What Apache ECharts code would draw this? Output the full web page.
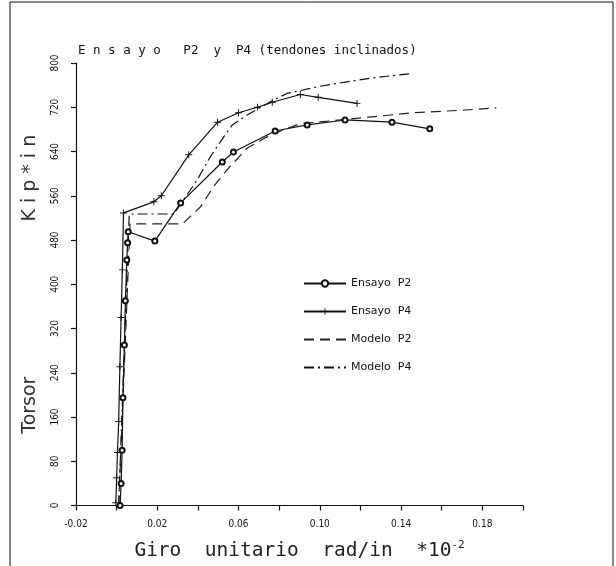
<!DOCTYPE html>
<html>
<head>
<meta charset="utf-8">
<script src="https://cdn.jsdelivr.net/npm/echarts@6/dist/echarts.min.js"></script>
<style>
  html, body { margin: 0; padding: 0; background: #fff; }
  #chart { width: 616px; height: 566px; }
</style>
</head>
<body>
<div id="chart"></div>
<script>
// datos
var ensayoP2X = [0.0017, 0.0022, 0.0027, 0.0031, 0.0038, 0.0043, 0.0050, 0.0054, 0.0057, 0.0188, 0.0315, 0.0520, 0.0575, 0.0780, 0.0938, 0.1124, 0.1355, 0.1541];
var ensayoP2Y = [0, 40, 100, 195, 290, 370, 444, 475, 495, 478, 547, 621, 639, 677, 688, 697, 693, 681];

var ensayoP4X = [-0.0004, 0.0000, 0.0004, 0.0010, 0.0016, 0.0022, 0.0028, 0.0034, 0.0183, 0.0220, 0.0355, 0.0497, 0.0600, 0.0693, 0.0766, 0.0904, 0.0992, 0.1183];
var ensayoP4Y = [5, 50, 96, 152, 251, 340, 426, 529, 549, 560, 634, 693, 710, 720, 729, 743, 738, 727];

var modeloP2X = [0.0010, 0.0066, 0.0323, 0.0413, 0.0478, 0.0544, 0.0642, 0.0757, 0.0900, 0.1239, 0.1458, 0.1720, 0.1869];
var modeloP2Y = [0, 509, 509, 540, 577, 607, 646, 670, 690, 702, 710, 715, 719];

var modeloP4X = [0.0010, 0.0062, 0.0282, 0.0397, 0.0462, 0.0528, 0.0569, 0.0642, 0.0773, 0.0838, 0.1002, 0.1133, 0.1280, 0.1452];
var modeloP4Y = [0, 527, 527, 589, 631, 667, 688, 706, 733, 745, 758, 766, 774, 781];

var xTickLabels = ["-0.02", "0.02", "0.06", "0.10", "0.14", "0.18"];
var seriesNames = ["Ensayo  P2", "Ensayo  P4", "Modelo  P2", "Modelo  P4"];

function pares(xs, ys) {
  var out = [];
  for (var i = 0; i < xs.length; i++) {
    out.push([xs[i], ys[i]]);
  }
  return out;
}

var chart = echarts.init(document.getElementById("chart"));
var monoFont = "DejaVu Sans Mono";
var plusSymbol = "path://M0,4.3 L10,4.3 L10,5.7 L0,5.7 Z M4.3,0 L5.7,0 L5.7,10 L4.3,10 Z";

var option = {
  backgroundColor: "#fff",
  animation: false,
  title: {
    text: "E n s a y o   P2  y  P4 (tendones inclinados)",
    left: 73,
    top: 39,
    textStyle: { fontFamily: monoFont, fontSize: 12.5, fontWeight: "normal", color: "#111" },
  },
  grid: { left: 76, right: 93, top: 63, bottom: 60 },
  legend: {
    orient: "vertical",
    left: 298,
    top: 273,
    itemWidth: 42,
    itemHeight: 8,
    itemGap: 17,
    data: [
      { name: seriesNames[0] },
      { name: seriesNames[1] },
      { name: seriesNames[2], itemStyle: { opacity: 0 } },
      { name: seriesNames[3], itemStyle: { opacity: 0 } },
    ],
    textStyle: { fontFamily: "DejaVu Sans", fontSize: 11, color: "#111" },
  },
  xAxis: {
    type: "value",
    min: -0.02,
    max: 0.2,
    interval: 0.02,
    splitLine: { show: false },
    axisLine: { lineStyle: { color: "#111", width: 1.2 } },
    axisTick: { length: 5, lineStyle: { color: "#111", width: 1.2 } },
    axisLabel: {
      margin: 14,
      fontFamily: "DejaVu Sans Condensed, DejaVu Sans",
      fontSize: 10,
      color: "#111",
      formatter: function (v) {
        var s = v.toFixed(2);
        return xTickLabels.indexOf(s) >= 0 ? s : "";
      },
    },
    name: "Giro  unitario  rad/in  *10{sup|-2}",
    nameLocation: "middle",
    nameGap: 34,
    nameTextStyle: {
      fontFamily: monoFont,
      fontSize: 19.5,
      color: "#222",
      rich: { sup: { fontFamily: monoFont, fontSize: 11, verticalAlign: "top", padding: [0, 0, 12, 0], color: "#222" } },
    },
  },
  yAxis: {
    type: "value",
    min: 0,
    max: 800,
    interval: 80,
    splitLine: { show: false },
    axisLine: { onZero: false, lineStyle: { color: "#111", width: 1.2 } },
    axisTick: { length: 5, lineStyle: { color: "#111", width: 1.2 } },
    axisLabel: {
      rotate: 90,
      margin: 16,
      fontFamily: "DejaVu Sans Condensed, DejaVu Sans",
      fontSize: 10,
      color: "#111",
    },
    name: "{a|Torsor}{gap| }{a|K i p * i n}",
    nameLocation: "middle",
    nameGap: 36,
    nameTextStyle: {
      rich: {
        a: { fontFamily: "DejaVu Sans", fontSize: 19, color: "#333" },
        gap: { width: 155, fontSize: 19 },
      },
    },
  },
  graphic: [
    {
      type: "rect",
      shape: { x: 10, y: 2, width: 603, height: 580 },
      style: { fill: null, stroke: "#111", lineWidth: 1 },
      silent: true,
    },
  ],
  series: [
    {
      name: seriesNames[0],
      type: "line",
      data: pares(ensayoP2X, ensayoP2Y),
      symbol: "emptyCircle",
      symbolSize: 5,
      itemStyle: { color: "#111", borderWidth: 1.6 },
      lineStyle: { color: "#111", width: 1.2 },
    },
    {
      name: seriesNames[1],
      type: "line",
      data: pares(ensayoP4X, ensayoP4Y),
      symbol: plusSymbol,
      symbolSize: 7,
      itemStyle: { color: "#111" },
      lineStyle: { color: "#111", width: 1.2 },
    },
    {
      name: seriesNames[2],
      type: "line",
      data: pares(modeloP2X, modeloP2Y),
      symbol: "none",
      itemStyle: { color: "#222" },
      lineStyle: { color: "#222", width: 1.2, type: [10, 6] },
    },
    {
      name: seriesNames[3],
      type: "line",
      data: pares(modeloP4X, modeloP4Y),
      symbol: "none",
      itemStyle: { color: "#111" },
      lineStyle: { color: "#111", width: 1.2, type: [10, 4, 2, 4] },
    },
  ],
};

chart.setOption(option);
window.onresize = function () {
  chart.resize();
};
</script>
</body>
</html>
